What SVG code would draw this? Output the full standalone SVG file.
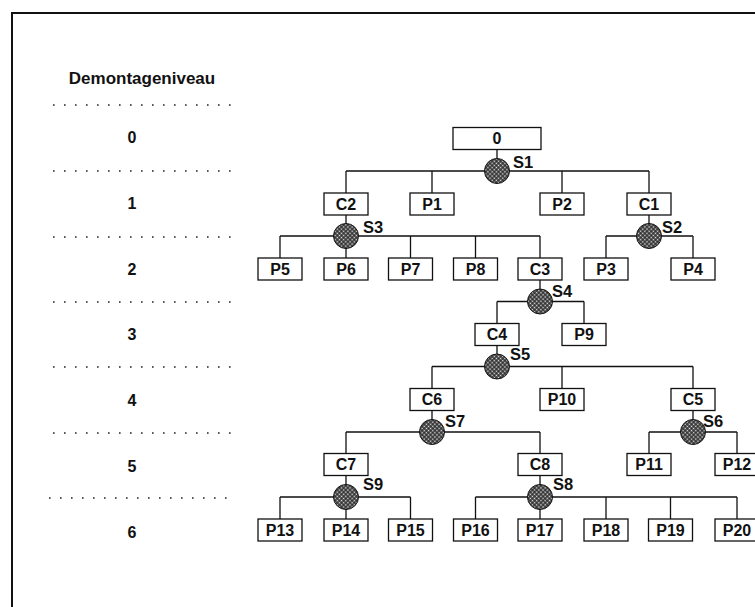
<svg xmlns="http://www.w3.org/2000/svg" width="755" height="607" viewBox="0 0 755 607">
  <style>
    .frame { fill: none; stroke: #111; stroke-width: 2; }
    .dots { stroke: #222; stroke-width: 1.6; stroke-dasharray: 1.6 9.4; }
    .lvl { font-family: "Liberation Sans", Arial, sans-serif; font-weight: bold; font-size: 16px; fill: #111; text-anchor: middle; }
    .head { font-family: "Liberation Sans", Arial, sans-serif; font-weight: bold; font-size: 17px; fill: #111; text-anchor: middle; }
    .box { fill: #fff; stroke: #111; stroke-width: 1.3; }
    .lbl { font-family: "Liberation Sans", Arial, sans-serif; font-weight: bold; font-size: 16px; fill: #111; text-anchor: middle; }
    .sep { fill: url(#hatch); stroke: #111; stroke-width: 1; }
    .slbl { font-family: "Liberation Sans", Arial, sans-serif; font-weight: bold; font-size: 16.5px; fill: #111; }
    .conn { fill: none; stroke: #111; stroke-width: 1.3; }
  </style>
  <defs>
    <!-- fine cross-hatch used for the separation-step discs -->
    <pattern id="hatch" patternUnits="userSpaceOnUse" width="3" height="3" patternTransform="rotate(45)">
      <rect width="3" height="3" fill="#262626"/>
      <rect x="0.7" y="0.7" width="1.6" height="1.6" fill="#ececec"/>
    </pattern>
  </defs>

  <rect width="755" height="607" fill="#fff"/>
  <path class="frame" d="M12,607 V13 H755"/>

  <!-- level column -->
  <g id="levels">
    <text class="head" x="142" y="84">Demontageniveau</text>
    <line class="dots" x1="53" y1="105" x2="232" y2="105"/>
    <text class="lvl" x="132" y="143">0</text>
    <line class="dots" x1="53" y1="171" x2="232" y2="171"/>
    <text class="lvl" x="132" y="209">1</text>
    <line class="dots" x1="53" y1="237" x2="232" y2="237"/>
    <text class="lvl" x="132" y="275">2</text>
    <line class="dots" x1="53" y1="302" x2="232" y2="302"/>
    <text class="lvl" x="132" y="340">3</text>
    <line class="dots" x1="53" y1="367" x2="232" y2="367"/>
    <text class="lvl" x="132" y="406">4</text>
    <line class="dots" x1="53" y1="433" x2="232" y2="433"/>
    <text class="lvl" x="132" y="472">5</text>
    <line class="dots" x1="49" y1="498" x2="228" y2="498"/>
    <text class="lvl" x="132" y="538">6</text>
  </g>

  <!-- connectors -->
  <g id="connectors">
    <path class="conn" d="M497,149.5 V171 M346,171 H649 M346,171 V193 M432,171 V193 M562,171 V193 M649,171 V193"/>
    <path class="conn" d="M346,215 V236 M280,236 H540 M280,236 V258 M346,236 V258 M410.5,236 V258 M475.5,236 V258 M540,236 V258"/>
    <path class="conn" d="M649,215 V236 M606,236 H693 M606,236 V258 M693,236 V258"/>
    <path class="conn" d="M540,280 V301.5 M497,301.5 H584 M497,301.5 V323.5 M584,301.5 V323.5"/>
    <path class="conn" d="M497,345.5 V366.5 M432,366.5 H693 M432,366.5 V388.5 M562,366.5 V388.5 M693,366.5 V388.5"/>
    <path class="conn" d="M432,410.5 V432 M346,432 H540 M346,432 V453.5 M540,432 V453.5"/>
    <path class="conn" d="M693,410.5 V432 M649,432 H737 M649,432 V453.5 M737,432 V453.5"/>
    <path class="conn" d="M346,475.5 V497 M280,497 H410.5 M280,497 V519 M346,497 V519 M410.5,497 V519"/>
    <path class="conn" d="M540,475.5 V497 M475.5,497 H737 M475.5,497 V519 M540,497 V519 M606,497 V519 M670.5,497 V519 M737,497 V519"/>
  </g>

  <!-- level 0 -->
  <g id="n0"><rect class="box" x="453" y="127.5" width="88" height="22"/><text class="lbl" x="497" y="144">0</text></g>

  <!-- level 1 -->
  <g id="C2"><rect class="box" x="324" y="193" width="44" height="22"/><text class="lbl" x="346" y="209.5">C2</text></g>
  <g id="P1"><rect class="box" x="410" y="193" width="44" height="22"/><text class="lbl" x="432" y="209.5">P1</text></g>
  <g id="P2"><rect class="box" x="540" y="193" width="44" height="22"/><text class="lbl" x="562" y="209.5">P2</text></g>
  <g id="C1"><rect class="box" x="627" y="193" width="44" height="22"/><text class="lbl" x="649" y="209.5">C1</text></g>

  <!-- level 2 -->
  <g id="P5"><rect class="box" x="258" y="258" width="44" height="22"/><text class="lbl" x="280" y="274.5">P5</text></g>
  <g id="P6"><rect class="box" x="324" y="258" width="44" height="22"/><text class="lbl" x="346" y="274.5">P6</text></g>
  <g id="P7"><rect class="box" x="388.5" y="258" width="44" height="22"/><text class="lbl" x="410.5" y="274.5">P7</text></g>
  <g id="P8"><rect class="box" x="453.5" y="258" width="44" height="22"/><text class="lbl" x="475.5" y="274.5">P8</text></g>
  <g id="C3"><rect class="box" x="518" y="258" width="44" height="22"/><text class="lbl" x="540" y="274.5">C3</text></g>
  <g id="P3"><rect class="box" x="584" y="258" width="44" height="22"/><text class="lbl" x="606" y="274.5">P3</text></g>
  <g id="P4"><rect class="box" x="671" y="258" width="44" height="22"/><text class="lbl" x="693" y="274.5">P4</text></g>

  <!-- level 3 -->
  <g id="C4"><rect class="box" x="475" y="323.5" width="44" height="22"/><text class="lbl" x="497" y="340">C4</text></g>
  <g id="P9"><rect class="box" x="562" y="323.5" width="44" height="22"/><text class="lbl" x="584" y="340">P9</text></g>

  <!-- level 4 -->
  <g id="C6"><rect class="box" x="410" y="388.5" width="44" height="22"/><text class="lbl" x="432" y="405">C6</text></g>
  <g id="P10"><rect class="box" x="540" y="388.5" width="44" height="22"/><text class="lbl" x="562" y="405">P10</text></g>
  <g id="C5"><rect class="box" x="671" y="388.5" width="44" height="22"/><text class="lbl" x="693" y="405">C5</text></g>

  <!-- level 5 -->
  <g id="C7"><rect class="box" x="324" y="453.5" width="44" height="22"/><text class="lbl" x="346" y="470">C7</text></g>
  <g id="C8"><rect class="box" x="518" y="453.5" width="44" height="22"/><text class="lbl" x="540" y="470">C8</text></g>
  <g id="P11"><rect class="box" x="627" y="453.5" width="44" height="22"/><text class="lbl" x="649" y="470">P11</text></g>
  <g id="P12"><rect class="box" x="715" y="453.5" width="44" height="22"/><text class="lbl" x="737" y="470">P12</text></g>

  <!-- level 6 -->
  <g id="P13"><rect class="box" x="258" y="519" width="44" height="22"/><text class="lbl" x="280" y="535.5">P13</text></g>
  <g id="P14"><rect class="box" x="324" y="519" width="44" height="22"/><text class="lbl" x="346" y="535.5">P14</text></g>
  <g id="P15"><rect class="box" x="388.5" y="519" width="44" height="22"/><text class="lbl" x="410.5" y="535.5">P15</text></g>
  <g id="P16"><rect class="box" x="453.5" y="519" width="44" height="22"/><text class="lbl" x="475.5" y="535.5">P16</text></g>
  <g id="P17"><rect class="box" x="518" y="519" width="44" height="22"/><text class="lbl" x="540" y="535.5">P17</text></g>
  <g id="P18"><rect class="box" x="584" y="519" width="44" height="22"/><text class="lbl" x="606" y="535.5">P18</text></g>
  <g id="P19"><rect class="box" x="648.5" y="519" width="44" height="22"/><text class="lbl" x="670.5" y="535.5">P19</text></g>
  <g id="P20"><rect class="box" x="715" y="519" width="44" height="22"/><text class="lbl" x="737" y="535.5">P20</text></g>

  <!-- separation steps -->
  <g id="S1"><circle class="sep" cx="497" cy="171" r="12.5"/><text class="slbl" x="513" y="168">S1</text></g>
  <g id="S3"><circle class="sep" cx="346" cy="236" r="12.5"/><text class="slbl" x="363" y="233">S3</text></g>
  <g id="S2"><circle class="sep" cx="649" cy="236" r="12.5"/><text class="slbl" x="662" y="233">S2</text></g>
  <g id="S4"><circle class="sep" cx="540" cy="301.5" r="12.5"/><text class="slbl" x="552" y="297">S4</text></g>
  <g id="S5"><circle class="sep" cx="497" cy="366.5" r="12.5"/><text class="slbl" x="510" y="360">S5</text></g>
  <g id="S7"><circle class="sep" cx="432" cy="432" r="12.5"/><text class="slbl" x="445" y="427">S7</text></g>
  <g id="S6"><circle class="sep" cx="693" cy="432" r="12.5"/><text class="slbl" x="703" y="427">S6</text></g>
  <g id="S9"><circle class="sep" cx="346" cy="497" r="12.5"/><text class="slbl" x="363" y="490">S9</text></g>
  <g id="S8"><circle class="sep" cx="540" cy="497" r="12.5"/><text class="slbl" x="553" y="490">S8</text></g>
</svg>
